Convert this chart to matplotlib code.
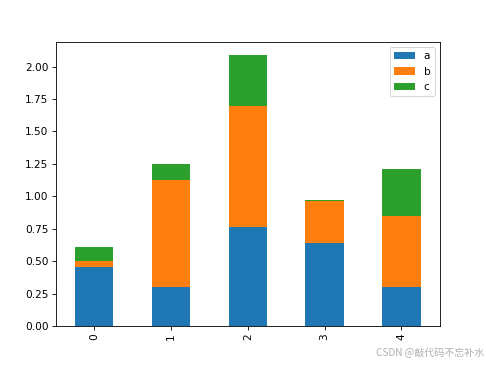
import pandas as pd
import matplotlib
matplotlib.use('Agg')
import matplotlib.pyplot as plt

# values
a = [0.451, 0.300, 0.764, 0.636, 0.297]
b = [0.052, 0.823, 0.931, 0.326, 0.551]
c = [0.107, 0.128, 0.390, 0.010, 0.359]

df = pd.DataFrame({'a': a, 'b': b, 'c': c})

fig = plt.figure(figsize=(6.4, 4.8066), dpi=75.9375)
fig.subplots_adjust(left=0.115, right=0.905, top=0.885, bottom=0.107)
ax = fig.add_subplot(111)
df.plot.bar(stacked=True, ax=ax)

# watermark
fig.text(0.996, 0.02, 'CSDN @敲代码不忘补水', ha='right', va='bottom',
         color='#b0b0b0', fontsize=9.5,
         family=['Noto Sans CJK SC', 'DejaVu Sans'])

fig.savefig('out.png', dpi=75.9375)
